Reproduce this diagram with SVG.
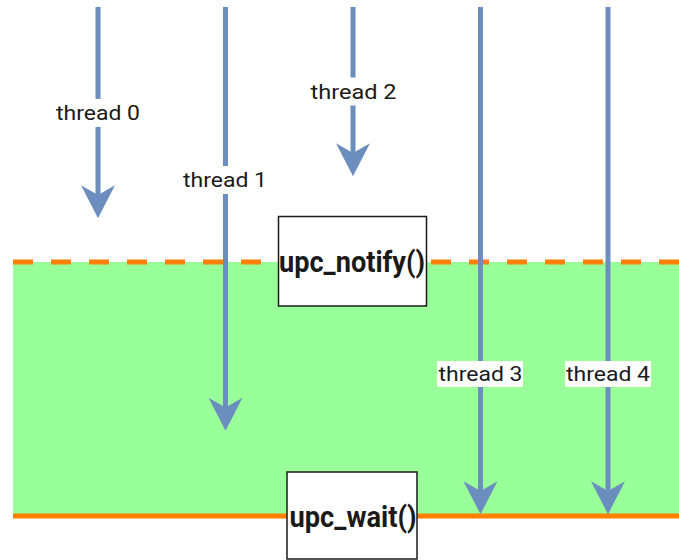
<svg xmlns="http://www.w3.org/2000/svg" width="679" height="560" viewBox="0 0 679 560">
  <defs>
    <marker id="head" markerUnits="userSpaceOnUse" markerWidth="34" markerHeight="34" viewBox="0 0 31 32" refX="19" refY="16" orient="auto" overflow="visible">
      <path d="M31,16 L0,0 L9,16 L0,32 Z" fill="#6c8ebf"/>
    </marker>
    <style>
      .thread { stroke: #6c8ebf; stroke-width: 5; fill: none; marker-end: url(#head); }
      .lbl-bg { fill: #ffffff; }
      .lbl { font-family: Roboto, "Liberation Sans", sans-serif; font-size: 21px; fill: #1a1a1a; text-anchor: middle; }
      .box { fill: #ffffff; stroke: #1a1a1a; stroke-width: 1.5; }
      .fn { font-family: Roboto, "Liberation Sans", sans-serif; font-size: 29px; font-weight: bold; fill: #1a1a1a; text-anchor: middle; }
      .notify { stroke: #ff8000; stroke-width: 5; stroke-dasharray: 20 18; fill: none; }
      .wait { stroke: #ff8000; stroke-width: 5; fill: none; }
    </style>
  </defs>

  <!-- barrier region between notify and wait -->
  <g id="barrier">
    <rect x="13" y="262" width="666" height="254" fill="#99ff99"/>
    <line class="notify" x1="13" y1="262" x2="679" y2="262"/>
    <line class="wait" x1="13" y1="516" x2="679" y2="516"/>
  </g>

  <!-- thread timelines -->
  <g id="connectors">
    <g id="thread0">
      <line class="thread" x1="98" y1="7" x2="98" y2="205.5"/>
      <rect class="lbl-bg" x="55" y="99" width="86" height="28"/>
      <text class="lbl" x="98" y="120" textLength="84" lengthAdjust="spacingAndGlyphs">thread 0</text>
    </g>
    <g id="thread1">
      <line class="thread" x1="225.5" y1="7" x2="225.5" y2="418"/>
      <rect class="lbl-bg" x="182.5" y="166" width="86" height="28"/>
      <text class="lbl" x="225" y="187" textLength="84" lengthAdjust="spacingAndGlyphs">thread 1</text>
    </g>
    <g id="thread2">
      <line class="thread" x1="353" y1="7" x2="353" y2="163.5"/>
      <rect class="lbl-bg" x="310" y="77.5" width="86" height="28"/>
      <text class="lbl" x="353.5" y="98.5" textLength="86" lengthAdjust="spacingAndGlyphs">thread 2</text>
    </g>
    <g id="thread3">
      <line class="thread" x1="480.5" y1="7" x2="480.5" y2="501.5"/>
      <rect class="lbl-bg" x="437" y="361" width="86" height="26"/>
      <text class="lbl" x="480.5" y="381" textLength="84" lengthAdjust="spacingAndGlyphs">thread 3</text>
    </g>
    <g id="thread4">
      <line class="thread" x1="608" y1="7" x2="608" y2="501.5"/>
      <rect class="lbl-bg" x="565" y="361" width="86" height="26"/>
      <text class="lbl" x="608" y="381" textLength="84" lengthAdjust="spacingAndGlyphs">thread 4</text>
    </g>
  </g>

  <g id="upc_notify">
    <rect class="box" x="278.5" y="216.5" width="148" height="89.5"/>
    <text class="fn" x="352" y="272" textLength="146" lengthAdjust="spacingAndGlyphs">upc_notify()</text>
  </g>

  <g id="upc_wait">
    <rect class="box" x="287" y="472" width="130" height="87"/>
    <text class="fn" x="353" y="527" textLength="127" lengthAdjust="spacingAndGlyphs">upc_wait()</text>
  </g>
</svg>
